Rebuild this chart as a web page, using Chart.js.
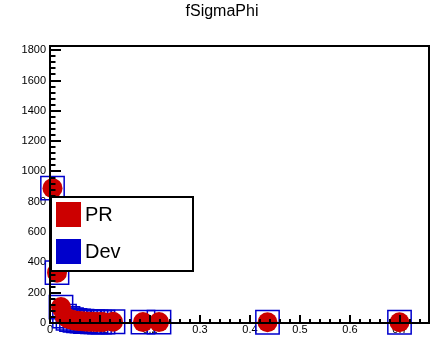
<!DOCTYPE html>
<html lang="en">
<head>
  <meta charset="UTF-8">
  <title>fSigmaPhi</title>
  <script src="https://cdn.jsdelivr.net/npm/chart.js@4.4.3/dist/chart.umd.min.js"></script>
  <style>
    body { margin: 0; background: #fff; }
    #wrap { width: 442px; height: 337px; }
  </style>
</head>
<body>
  <div id="wrap"><canvas id="c" width="442" height="337"></canvas></div>
  <script>
    const chartTitle = "fSigmaPhi";
    const seriesNames = ["PR", "Dev"];

    // x positions of the points (same for both series)
    const xVals = [0.005, 0.014, 0.022, 0.029, 0.036, 0.043, 0.050, 0.057, 0.064, 0.071, 0.078, 0.085, 0.092, 0.099, 0.106, 0.126, 0.186, 0.218, 0.435, 0.699];
    const prY   = [890, 332, 105, 45, 30, 22, 17, 14, 12, 10, 9, 8, 7, 6, 6, 8, 6, 6, 5, 5];
    const devY  = [890, 332, 105, 45, 30, 22, 17, 14, 12, 10, 9, 8, 7, 6, 6, 8, 6, 6, 5, 5];

    const xTickLabels = [0, 0.1, 0.2, 0.3, 0.4, 0.5, 0.6, 0.7];
    const yTickLabels = [0, 200, 400, 600, 800, 1000, 1200, 1400, 1600, 1800];

    const xRange = [0, 0.758];
    const yRange = [0, 1828];

    const RED = "#cc0000";
    const BLUE = "#0000cc";
    const FONT = "'Liberation Sans', Arial, sans-serif";

    const toPoints = ys => xVals.map((x, i) => ({ x: x, y: ys[i] }));

    // ROOT-like frame, inward ticks, title and legend
    const rootStyle = {
      id: "rootStyle",
      afterDatasetsDraw(chart) {
        const ctx = chart.ctx;
        const a = chart.chartArea;
        const xs = chart.scales.x, ys = chart.scales.y;
        ctx.save();
        ctx.strokeStyle = "#000";
        ctx.lineWidth = 2;
        ctx.strokeRect(a.left, a.top, a.right - a.left, a.bottom - a.top);

        ctx.beginPath();
        // x ticks: major 0.1, minor 0.02
        for (let i = 0; i * 0.02 <= xRange[1] + 1e-9; i++) {
          const px = Math.round(xs.getPixelForValue(i * 0.02));
          const len = i % 5 === 0 ? 8 : 4;
          ctx.moveTo(px, a.bottom);
          ctx.lineTo(px, a.bottom - len);
        }
        // y ticks: major 200, minor 40
        for (let i = 0; i * 40 <= yRange[1]; i++) {
          const py = Math.round(ys.getPixelForValue(i * 40));
          const len = i % 5 === 0 ? 11 : 5.5;
          ctx.moveTo(a.left, py);
          ctx.lineTo(a.left + len, py);
        }
        ctx.stroke();

        // title
        ctx.fillStyle = "#000";
        ctx.font = "16px " + FONT;
        ctx.textAlign = "center";
        ctx.textBaseline = "middle";
        ctx.fillText(chartTitle, 222, 12);

        // legend box
        const lx = 51, ly = 197, lw = 142, lh = 74;
        ctx.fillStyle = "#fff";
        ctx.fillRect(lx, ly, lw, lh);
        ctx.lineWidth = 2;
        ctx.strokeRect(lx, ly, lw, lh);
        const colors = [RED, BLUE];
        ctx.font = "20px " + FONT;
        ctx.textAlign = "left";
        seriesNames.forEach((name, i) => {
          const sy = ly + 5 + i * 37;
          ctx.fillStyle = colors[i];
          ctx.fillRect(lx + 5, sy, 25, 25);
          ctx.fillStyle = "#000";
          ctx.fillText(name, lx + 34, sy + 13);
        });
        ctx.restore();
      }
    };

    new Chart(document.getElementById("c"), {
      type: "scatter",
      data: {
        datasets: [
          {
            label: seriesNames[0],
            data: toPoints(prY),
            pointStyle: "circle",
            pointRadius: 10,
            pointHoverRadius: 10,
            backgroundColor: RED,
            borderColor: RED,
            borderWidth: 0,
            clip: false
          },
          {
            label: seriesNames[1],
            data: toPoints(devY),
            pointStyle: "rect",
            pointRadius: 16.5,
            pointHoverRadius: 16.5,
            backgroundColor: "rgba(0,0,0,0)",
            borderColor: BLUE,
            borderWidth: 1.5,
            clip: false
          }
        ]
      },
      options: {
        responsive: false,
        animation: false,
        events: [],
        layout: { autoPadding: false, padding: { top: 46, right: 13, left: 0, bottom: 0 } },
        plugins: { legend: { display: false }, title: { display: false }, tooltip: { enabled: false } },
        scales: {
          x: {
            type: "linear",
            min: xRange[0],
            max: xRange[1],
            afterFit: s => { s.height = 14; },
            afterBuildTicks: s => { s.ticks = xTickLabels.map(v => ({ value: v })); },
            grid: { display: false, drawTicks: false },
            border: { display: false },
            ticks: {
              maxRotation: 0,
              autoSkip: false,
              padding: 0,
              color: "#000",
              font: { family: FONT, size: 11 },
              callback: v => String(v)
            }
          },
          y: {
            type: "linear",
            min: yRange[0],
            max: yRange[1],
            afterFit: s => { s.width = 50; },
            afterBuildTicks: s => { s.ticks = yTickLabels.map(v => ({ value: v })); },
            grid: { display: false, drawTicks: false },
            border: { display: false },
            ticks: {
              autoSkip: false,
              padding: 4,
              color: "#000",
              font: { family: FONT, size: 11 },
              callback: v => String(v)
            }
          }
        }
      },
      plugins: [rootStyle]
    });
  </script>
</body>
</html>
